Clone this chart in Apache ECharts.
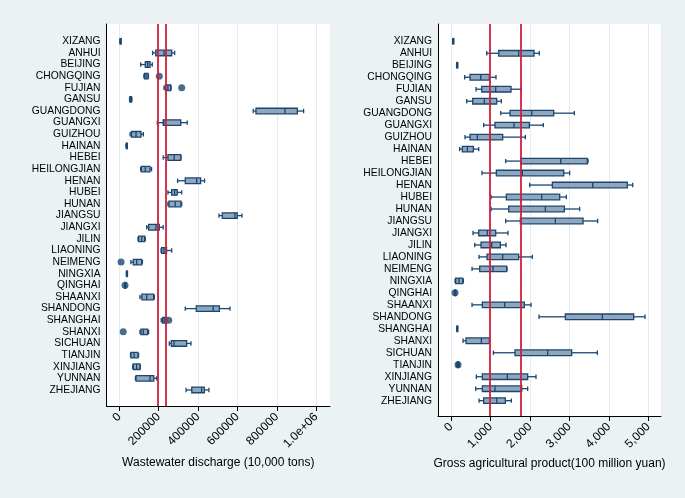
<!DOCTYPE html>
<html><head><meta charset="utf-8">
<script src="https://cdn.jsdelivr.net/npm/echarts@6/dist/echarts.min.js"></script>
<style>html,body{margin:0;padding:0;background:#eaf2f3}#c{width:685px;height:498px}</style>
</head><body><div id="c"></div><script>
const provinces = ['XIZANG','ANHUI','BEIJING','CHONGQING','FUJIAN','GANSU','GUANGDONG','GUANGXI','GUIZHOU','HAINAN','HEBEI','HEILONGJIAN','HENAN','HUBEI','HUNAN','JIANGSU','JIANGXI','JILIN','LIAONING','NEIMENG','NINGXIA','QINGHAI','SHAANXI','SHANDONG','SHANGHAI','SHANXI','SICHUAN','TIANJIN','XINJIANG','YUNNAN','ZHEJIANG'];

// Wastewater discharge (10,000 tons)
const waterLow    = [4000,169000,108600,125000,227000,52000,680000,193000,55000,34000,223000,108500,296000,247000,247000,506000,139000,95000,212000,59000,36000,27000,105000,335000,213000,105000,254000,57000,68000,82000,339000];
const waterQ1     = [4500,185000,132000,128000,233500,54000,694000,223000,62000,35500,247000,112000,335000,266000,252000,523000,149000,98000,215000,71000,36500,28000,115000,391000,220000,110000,264000,59000,71000,85000,368000];
const waterMedian = [5000,227000,144000,136000,247000,58000,841000,226000,85000,37500,279000,132000,393000,281000,284000,587000,186000,114000,227000,88000,37500,29000,139000,477000,228000,122000,278000,75000,88000,156000,418000];
const waterQ3     = [5500,266000,156000,146000,261000,62000,904000,312000,110000,39500,312000,156000,413000,294000,313000,599000,203000,129000,240000,114000,38500,30000,174600,508000,240000,144000,342000,95000,105000,175000,432000];
const waterHigh   = [6000,281000,167500,148000,263000,64000,936000,345000,122000,41000,313000,164000,433000,317000,317000,623000,223000,132000,266000,117000,39000,31000,178000,562000,240000,149000,364000,98000,107000,190000,455000];
const waterOutlierProv = ['CHONGQING','FUJIAN','NEIMENG','QINGHAI','SHANGHAI','SHANXI'];
const waterOutlierVal  = [203000,317000,9000,29000,251000,20000];
const waterRefLines = [195000,237000];
const waterTicks = [0,200000,400000,600000,800000,1000000];
const waterTickLabels = ['0','200000','400000','600000','800000','1.0e+06'];

// Gross agricultural product (100 million yuan)
const agriLow    = [40,903,140,346,633,397,1258,827,354,219,1384,785,1992,1013,1013,1384,557,599,709,532,101,90,532,2228,145,304,1072,150,641,625,709];
const agriQ1     = [45,1207,145,481,777,549,1494,1114,481,287,1764,1148,2566,1401,1460,1756,701,760,912,726,118,95,793,2895,148,380,1620,160,793,793,827];
const agriMedian = [51,1713,152,752,1131,844,2043,1595,667,414,2777,1806,3587,2296,2389,2642,920,1030,1308,1063,203,101,1359,3832,152,768,2448,177,1426,1114,1157];
const agriQ3     = [57,2101,158,970,1519,1157,2600,1983,1308,565,3452,2854,4464,2752,2870,3343,1131,1249,1713,1409,296,107,1856,4625,156,970,3055,195,1941,1790,1375];
const agriHigh   = [62,2236,163,1139,1781,1275,3122,2337,1882,701,3469,3004,4600,2920,3258,3714,1443,1393,2059,1418,313,112,2026,4912,159,979,3705,205,2152,1941,1527];
const agriOutlierProv = ['QINGHAI','TIANJIN'];
const agriOutlierVal  = [101,177];
const agriRefLines = [987,1765];
const agriTicks = [0,1000,2000,3000,4000,5000];
const agriTickLabels = ['0','1,000','2,000','3,000','4,000','5,000'];

const NAVY = '#1a476f', FILL = '#8fa6bd', RED = '#d21f3c', GRIDC = '#e3ebee';
const FONT = '"Liberation Sans", Arial, sans-serif';

function boxRender(params, api) {
  const idx = api.value(0);
  const lo = api.coord([api.value(1), idx]);
  const q1 = api.coord([api.value(2), idx]);
  const md = api.coord([api.value(3), idx]);
  const q3 = api.coord([api.value(4), idx]);
  const hi = api.coord([api.value(5), idx]);
  const y = lo[1], bh = 5.6, ch = 4.4;
  const st = {stroke: NAVY, lineWidth: 1.3};
  return {type: 'group', children: [
    {type: 'line', shape: {x1: lo[0], y1: y, x2: q1[0], y2: y}, style: st},
    {type: 'line', shape: {x1: q3[0], y1: y, x2: hi[0], y2: y}, style: st},
    {type: 'line', shape: {x1: lo[0], y1: y - ch/2, x2: lo[0], y2: y + ch/2}, style: st},
    {type: 'line', shape: {x1: hi[0], y1: y - ch/2, x2: hi[0], y2: y + ch/2}, style: st},
    {type: 'rect', shape: {x: q1[0], y: y - bh/2, width: Math.max(q3[0] - q1[0], 1), height: bh}, style: {fill: FILL, stroke: NAVY, lineWidth: 1.3}},
    {type: 'line', shape: {x1: md[0], y1: y - bh/2, x2: md[0], y2: y + bh/2}, style: st}
  ]};
}

function xAxisCfg(gi, min, max, ticks, labels, name, gap) {
  return {
    gridIndex: gi, type: 'value', min: min, max: max,
    axisLine: {show: true, onZero: false, lineStyle: {color: '#000', width: 1}},
    axisTick: {show: true, customValues: ticks, length: 5, lineStyle: {color: '#000', width: 1}},
    axisLabel: {customValues: ticks, formatter: v => labels[ticks.indexOf(v)], rotate: 45, fontSize: 12, margin: 9, color: '#000', fontFamily: FONT},
    splitLine: {show: true, lineStyle: {color: GRIDC, width: 1}},
    name: name, nameLocation: 'middle', nameGap: gap,
    nameTextStyle: {fontSize: 12, color: '#000', fontFamily: FONT}
  };
}
function yAxisCfg(gi, min, max) {
  return {
    gridIndex: gi, type: 'value', inverse: true, min: min, max: max,
    axisLine: {show: true, onZero: false, lineStyle: {color: '#000', width: 1}},
    axisTick: {show: false}, splitLine: {show: false},
    axisLabel: {customValues: provinces.map((p, i) => i), formatter: v => provinces[v] || '', fontSize: 10.3, color: '#000', margin: 6, fontFamily: FONT}
  };
}

const waterBoxes = provinces.map((p, i) => [i, waterLow[i], waterQ1[i], waterMedian[i], waterQ3[i], waterHigh[i]]);
const agriBoxes = provinces.map((p, i) => [i, agriLow[i], agriQ1[i], agriMedian[i], agriQ3[i], agriHigh[i]]);
const waterOut = waterOutlierProv.map((p, k) => [waterOutlierVal[k], provinces.indexOf(p)]);
const agriOut = agriOutlierProv.map((p, k) => [agriOutlierVal[k], provinces.indexOf(p)]);

function refSeries(ai, vals) {
  return {type: 'line', xAxisIndex: ai, yAxisIndex: ai, data: [], z: 1, silent: true,
    markLine: {silent: true, symbol: 'none', animation: false, label: {show: false},
      lineStyle: {color: RED, width: 1.8, type: 'solid'}, emphasis: {disabled: true},
      data: vals.map(v => ({xAxis: v}))}};
}

const chart = echarts.init(document.getElementById('c'), null, {renderer: 'canvas'});
chart.setOption({
  animation: false,
  backgroundColor: '#eaf2f3',
  textStyle: {fontFamily: FONT},
  grid: [
    {left: 106.5, right: 355, top: 24, bottom: 92, show: true, backgroundColor: '#fff', borderWidth: 0},
    {left: 438, right: 24, top: 24, bottom: 82, show: true, backgroundColor: '#fff', borderWidth: 0}
  ],
  xAxis: [
    xAxisCfg(0, -65000, 1070000, waterTicks, waterTickLabels, 'Wastewater discharge (10,000 tons)', 51),
    xAxisCfg(1, -330, 5317, agriTicks, agriTickLabels, 'Gross agricultural product(100 million yuan)', 42)
  ],
  yAxis: [yAxisCfg(0, -1.489, 31.38), yAxisCfg(1, -1.444, 31.28)],
  series: [
    refSeries(0, waterRefLines),
    refSeries(1, agriRefLines),
    {type: 'custom', xAxisIndex: 0, yAxisIndex: 0, z: 3, renderItem: boxRender, data: waterBoxes, encode: {x: [1,2,3,4,5], y: 0}},
    {type: 'custom', xAxisIndex: 1, yAxisIndex: 1, z: 3, renderItem: boxRender, data: agriBoxes, encode: {x: [1,2,3,4,5], y: 0}},
    {type: 'scatter', xAxisIndex: 0, yAxisIndex: 0, z: 4, symbol: 'circle', symbolSize: 7, itemStyle: {color: NAVY}, data: waterOut},
    {type: 'scatter', xAxisIndex: 1, yAxisIndex: 1, z: 4, symbol: 'circle', symbolSize: 7, itemStyle: {color: NAVY}, data: agriOut}
  ]
});
</script></body></html>
